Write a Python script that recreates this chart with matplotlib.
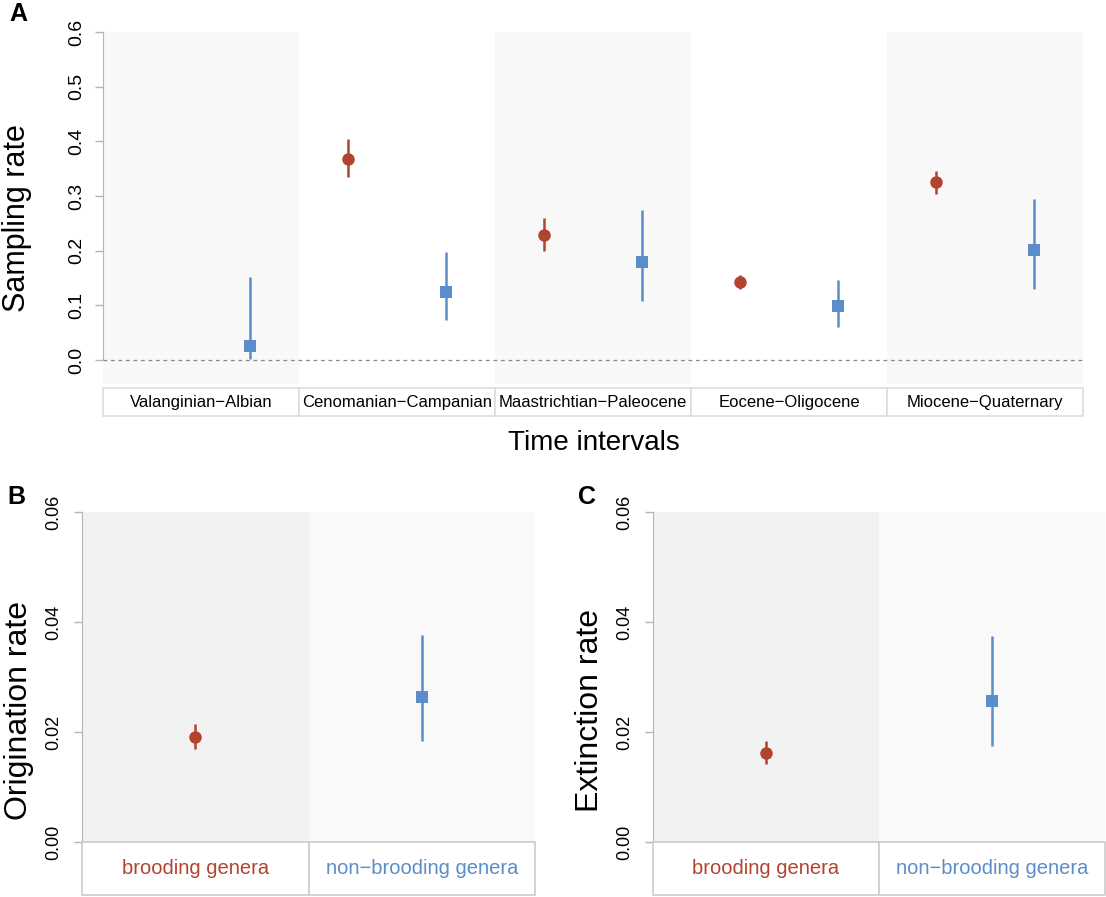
import numpy as np
import matplotlib
matplotlib.use("Agg")
import matplotlib.pyplot as plt
from matplotlib.patches import Rectangle

plt.rcParams['font.family'] = ['Liberation Sans', 'DejaVu Sans']

# ---- data ----
intervals = ["Valanginian\u2212Albian", "Cenomanian\u2212Campanian",
             "Maastrichtian\u2212Paleocene", "Eocene\u2212Oligocene",
             "Miocene\u2212Quaternary"]
samp_brood = [np.nan, 0.368, 0.228, 0.142, 0.325]
samp_brood_lo = [np.nan, 0.334, 0.199, 0.130, 0.304]
samp_brood_hi = [np.nan, 0.405, 0.259, 0.155, 0.346]
samp_non = [0.025, 0.125, 0.179, 0.098, 0.201]
samp_non_lo = [0.002, 0.073, 0.108, 0.061, 0.130]
samp_non_hi = [0.152, 0.198, 0.274, 0.146, 0.295]

groups = ["brooding genera", "non\u2212brooding genera"]
orig = [0.0191, 0.0264]
orig_lo = [0.0169, 0.0183]
orig_hi = [0.0214, 0.0376]
ext = [0.0161, 0.0257]
ext_lo = [0.0142, 0.0175]
ext_hi = [0.0183, 0.0374]

RED = '#B2432F'
BLUE = '#5B8DCB'
AXC = '#B5B5B5'

W, H = 1106, 897
fig = plt.figure(figsize=(W / 100, H / 100), dpi=100)


def rect(x0, y0, x1, y1):
    return [x0 / W, 1 - y1 / H, (x1 - x0) / W, (y1 - y0) / H]


def style_axis(ax, ymax, ticks, fmt, size, pad):
    for s in ['top', 'right', 'bottom']:
        ax.spines[s].set_visible(False)
    ax.spines['left'].set_color(AXC)
    ax.spines['left'].set_bounds(0, ymax)
    ax.set_xticks([])
    ax.set_yticks(ticks)
    ax.set_yticklabels([fmt % t for t in ticks], rotation=90, va='center')
    ax.tick_params(axis='y', colors=AXC, length=6, width=1, pad=pad,
                   labelsize=size, labelcolor='black')
    ax.axhline(0, color='#888888', lw=0.9, ls=(0, (3, 3)), zorder=1)


def draw_err(ax, x, m, lo, hi, col, mk):
    m = np.asarray(m, float)
    err = np.vstack([m - np.asarray(lo, float), np.asarray(hi, float) - m])
    ax.errorbar(x, m, yerr=err, fmt=mk, color=col, ms=9, elinewidth=1.8,
                capsize=0, mec=col, mew=0, zorder=3)


def label_boxes(lax, labels, colors, size, edge):
    n = len(labels)
    lax.set_xlim(0, n)
    lax.set_ylim(0, 1)
    lax.axis('off')
    for i, (lab, c) in enumerate(zip(labels, colors)):
        lax.add_patch(Rectangle((i, 0), 1, 1, facecolor='white',
                                edgecolor=edge, lw=1.2, clip_on=False))
        lax.text(i + 0.5, 0.5, lab, ha='center', va='center',
                 fontsize=size, color=c)


# ---- panel A ----
axA = fig.add_axes(rect(103, 32, 1083, 384))
nA = len(intervals)
axA.set_xlim(0, nA)
axA.set_ylim(-0.0439, 0.6)
for i in range(nA):
    if i % 2 == 0:
        axA.axvspan(i, i + 1, color='#F8F8F8', lw=0, zorder=0)
style_axis(axA, 0.6, np.arange(0, 0.61, 0.1), '%.1f', 14, 6.5)
xs = np.arange(nA)
draw_err(axA, xs + 0.25, samp_brood, samp_brood_lo, samp_brood_hi, RED, 'o')
draw_err(axA, xs + 0.75, samp_non, samp_non_lo, samp_non_hi, BLUE, 's')
labA = fig.add_axes(rect(103, 388, 1083, 416))
label_boxes(labA, intervals, ['black'] * nA, 12, '#DDDDDD')
fig.text(594 / W, 1 - 443 / H, "Time intervals", ha='center', va='center',
         fontsize=20)
fig.text(17 / W, 1 - 218 / H, "Sampling rate", ha='center', va='center',
         rotation=90, fontsize=22)
fig.text(18 / W, 1 - 14 / H, "A", ha='center', va='center',
         fontsize=18, fontweight='bold')

# ---- panels B and C ----
for (x0, x1, vals, lo, hi, ylab, let, lx) in [
        (82, 535, orig, orig_lo, orig_hi, "Origination rate", "B", 16),
        (653, 1105, ext, ext_lo, ext_hi, "Extinction rate", "C", 587)]:
    ax = fig.add_axes(rect(x0, 512, x1, 842))
    ax.set_xlim(0, 2)
    ax.set_ylim(0, 0.06)
    ax.axvspan(0, 1, color='#F2F2F2', lw=0, zorder=0)
    ax.axvspan(1, 2, color='#F9F9F9', lw=0, zorder=0)
    style_axis(ax, 0.06, np.arange(0, 0.061, 0.02), '%.2f', 13, 8.5)
    draw_err(ax, [0.5], [vals[0]], [lo[0]], [hi[0]], RED, 'o')
    draw_err(ax, [1.5], [vals[1]], [lo[1]], [hi[1]], BLUE, 's')
    lab = fig.add_axes(rect(x0, 842, x1, 895))
    label_boxes(lab, groups, [RED, BLUE], 14.5, '#CCCCCC')
    fig.text((x0 - 63) / W, 1 - 710 / H, ylab, ha='center', va='center',
             rotation=90, fontsize=23)
    fig.text(lx / W, 1 - 497 / H, let, ha='center', va='center',
             fontsize=18, fontweight='bold')

fig.savefig('out.png', dpi=100, facecolor='white')
